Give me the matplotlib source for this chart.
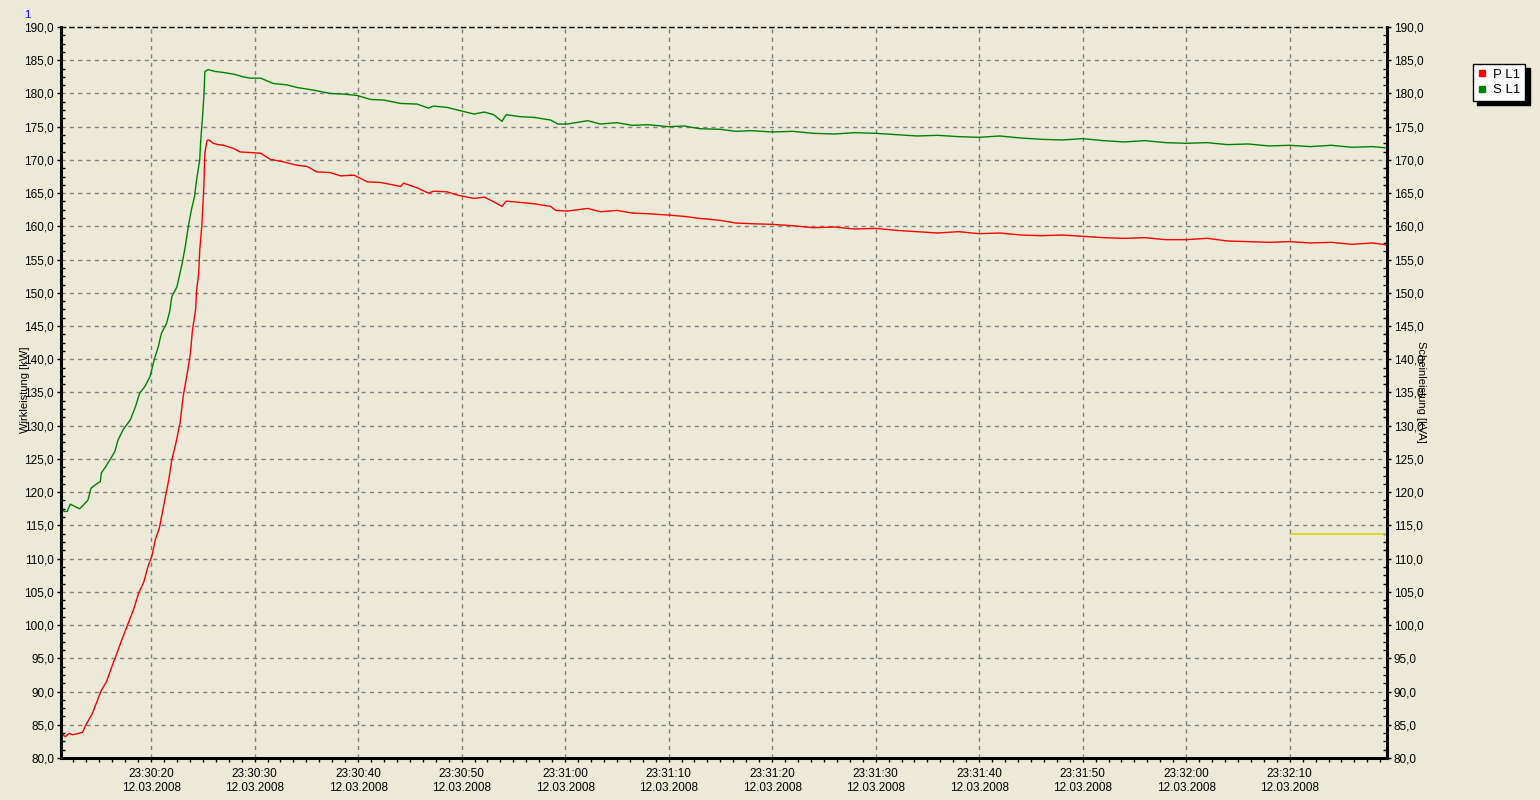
import numpy as np
import matplotlib
matplotlib.use("Agg")
import matplotlib.pyplot as plt
from matplotlib.ticker import MultipleLocator, FuncFormatter
from matplotlib.lines import Line2D
from datetime import datetime, timedelta

# time axis: seconds after 23:30:00 on 12.03.2008
t0 = datetime(2008, 3, 12, 23, 30, 0)
t_min, t_max = 11.3, 139.4

# S L1 (Scheinleistung)
s_t = [11.3, 11.6, 11.9, 12.2, 12.7, 13.1, 13.6, 13.9, 14.2, 14.7, 15.1, 15.2, 15.6,
       16.0, 16.5, 16.8, 17.3, 18.0, 18.5, 18.9, 19.4, 19.9, 20.3, 20.7, 21.0, 21.5,
       21.8, 22.0, 22.5, 23.0, 23.3, 23.6, 23.9, 24.2, 24.4, 24.7, 24.8, 24.95, 25.1,
       25.2, 25.5, 26.2, 26.8, 28.0, 28.9, 29.6, 30.6, 31.8, 33.1, 34.1, 35.7, 37.3,
       38.6, 39.9, 41.2, 42.5, 44.1, 45.7, 46.8, 47.3, 48.6, 49.9, 51.2, 52.2, 53.1,
       53.9, 54.3, 55.7, 57.0, 58.6, 59.3, 60.2, 62.2, 63.4, 65, 66.5, 68, 70, 71.5,
       73, 75, 76.5, 78, 80, 82, 84, 86, 88, 90, 92, 94, 96, 98, 100, 102, 104, 106,
       108, 110, 112, 114, 116, 118, 120, 122, 124, 126, 128, 130, 132, 134, 136, 138,
       139.4]
s_val = [117.9, 117.1, 117.1, 118.2, 117.8, 117.5, 118.3, 118.8, 120.6, 121.2, 121.6,
         122.9, 123.8, 124.8, 126.1, 127.8, 129.4, 130.9, 132.9, 134.9, 135.9, 137.4,
         139.9, 141.9, 143.9, 145.4, 147.2, 149.4, 150.9, 154.4, 156.9, 160.0, 162.5,
         164.5, 167.0, 170.0, 173.0, 176.0, 179.5, 183.3, 183.6, 183.3, 183.2, 182.9,
         182.5, 182.3, 182.3, 181.5, 181.3, 180.9, 180.5, 180.0, 179.9, 179.7, 179.1,
         179.0, 178.5, 178.4, 177.8, 178.1, 177.9, 177.4, 176.9, 177.2, 176.8, 175.8,
         176.8, 176.5, 176.4, 176.0, 175.4, 175.4, 175.9, 175.4, 175.6, 175.2, 175.3,
         175.0, 175.1, 174.7, 174.6, 174.3, 174.4, 174.2, 174.3, 174.0, 173.9, 174.1,
         174.0, 173.8, 173.6, 173.7, 173.5, 173.4, 173.6, 173.3, 173.1, 173.0, 173.2,
         172.9, 172.7, 172.9, 172.6, 172.5, 172.6, 172.3, 172.4, 172.1, 172.2, 172.0,
         172.2, 171.9, 172.0, 171.8]

# P L1 (Wirkleistung)
p_t = [11.3, 11.5, 11.7, 12.1, 12.4, 13.0, 13.4, 13.7, 14.3, 14.7, 15.2, 15.7, 16.2,
       16.8, 17.3, 17.8, 18.3, 18.8, 19.3, 19.7, 20.1, 20.4, 20.8, 21.2, 21.7, 22.0,
       22.4, 22.8, 23.1, 23.5, 23.8, 24.0, 24.3, 24.4, 24.6, 24.7, 24.9, 25.1, 25.2,
       25.4, 25.6, 26.0, 26.5, 27.0, 28.0, 28.6, 29.7, 30.6, 31.5, 32.8, 34.1, 35.1,
       36.0, 37.3, 38.3, 39.6, 40.9, 42.2, 43.5, 44.1, 44.4, 45.7, 46.8, 47.3, 48.6,
       49.6, 51.2, 52.2, 53.1, 53.9, 54.3, 55.7, 57.0, 58.6, 59.1, 60.2, 62.2, 63.4,
       65, 66.5, 68, 70, 71.5, 73, 75, 76.5, 78, 80, 82, 84, 86, 88, 90, 92, 94, 96,
       98, 100, 102, 104, 106, 108, 110, 112, 114, 116, 118, 120, 122, 124, 126, 128,
       130, 132, 134, 136, 138, 139.4]
p_val = [83.5, 83.5, 83.2, 83.7, 83.5, 83.7, 83.9, 85.0, 86.6, 88.2, 90.2, 91.5, 93.7,
         96.2, 98.3, 100.3, 102.3, 104.8, 106.5, 108.8, 110.5, 112.8, 114.6, 117.8,
         121.8, 124.8, 127.4, 130.4, 134.4, 137.9, 140.9, 144.4, 147.4, 150.4, 152.9,
         156.4, 160.0, 166.0, 171.0, 172.9, 173.0, 172.5, 172.3, 172.2, 171.7, 171.2,
         171.1, 171.0, 170.1, 169.7, 169.2, 169.0, 168.2, 168.1, 167.6, 167.7, 166.7,
         166.6, 166.2, 166.0, 166.5, 165.8, 165.0, 165.3, 165.2, 164.7, 164.2, 164.4,
         163.7, 163.0, 163.8, 163.6, 163.4, 163.0, 162.4, 162.3, 162.7, 162.2, 162.4,
         162.0, 161.9, 161.7, 161.5, 161.2, 160.9, 160.5, 160.4, 160.3, 160.1, 159.8,
         159.9, 159.6, 159.7, 159.4, 159.2, 159.0, 159.2, 158.9, 159.0, 158.7, 158.6,
         158.7, 158.5, 158.3, 158.2, 158.3, 158.0, 158.0, 158.2, 157.8, 157.7, 157.6,
         157.7, 157.5, 157.6, 157.3, 157.5, 157.2]

# short yellow line at the right end
y_t = [130.0, 139.4]
y_val = [113.7, 113.7]

bg = '#ECE9D8'
plt.rcParams['font.family'] = ['Liberation Sans', 'DejaVu Sans']
plt.rcParams['font.size'] = 8

fig = plt.figure(figsize=(15.4, 8), dpi=100, facecolor=bg)
ax = fig.add_axes([61/1540, 1-758/800, (1387-61)/1540, (758-27)/800])
ax.set_facecolor(bg)

ax.plot(p_t, p_val, color='#FF0000', lw=1.0)
ax.plot(s_t, s_val, color='#008000', lw=1.0)
ax.plot(y_t, y_val, color='#D8D800', lw=1.2)

ax.set_xlim(t_min, t_max)
ax.set_ylim(80, 190)

ax.xaxis.set_major_locator(MultipleLocator(10))
ax.xaxis.set_minor_locator(MultipleLocator(1.25))
ax.yaxis.set_major_locator(MultipleLocator(5))
ax.yaxis.set_minor_locator(MultipleLocator(1.25))

def fmt_time(v, pos):
    return (t0 + timedelta(seconds=v)).strftime('%H:%M:%S\n%d.%m.%Y')

ax.xaxis.set_major_formatter(FuncFormatter(fmt_time))
ax.yaxis.set_major_formatter(FuncFormatter(lambda v, p: ('%.1f' % v).replace('.', ',')))

ax.tick_params(axis='y', which='major', direction='out', length=3, width=1,
               left=True, right=True, labelleft=True, labelright=True, pad=2,
               labelsize=8.5)
ax.tick_params(axis='y', which='minor', direction='in', length=3, width=1,
               left=True, right=True)
ax.tick_params(axis='x', which='major', direction='out', length=3, width=1, pad=4,
               labelsize=8.5)
ax.tick_params(axis='x', which='minor', direction='out', length=3, width=1)
for lab in ax.get_xticklabels():
    lab.set_linespacing(1.25)

ax.grid(True, which='major', color='#808080', linestyle=(0, (3, 3)), linewidth=1)

for side in ['left', 'right', 'bottom']:
    ax.spines[side].set_linewidth(2.2)
    ax.spines[side].set_color('black')
ax.spines['top'].set_linestyle((0, (3, 3)))
ax.spines['top'].set_linewidth(1)

fig.text(25/1540, 1-390/800, 'Wirkleistung [kW]', rotation=90, ha='center',
         va='center', fontsize=8)
fig.text(1421/1540, 1-392/800, 'Scheinleistung [kVA]', rotation=270, ha='center',
         va='center', fontsize=8)
fig.text(24/1540, 1-15/800, '1', color='#0000FF', ha='left', va='center', fontsize=8)

handles = [Line2D([], [], marker='s', ls='none', color='#FF0000', markersize=5),
           Line2D([], [], marker='s', ls='none', color='#008000', markersize=5)]
leg = fig.legend(handles, ['P L1', 'S L1'], loc='upper left',
                 bbox_to_anchor=(1473/1540, 1-64/800), bbox_transform=fig.transFigure,
                 borderaxespad=0, fancybox=False, edgecolor='black', framealpha=1,
                 shadow={'color': 'black', 'alpha': 1, 'ox': 3, 'oy': -3},
                 handlelength=0.6, handletextpad=0.6, borderpad=0.35,
                 labelspacing=0.25, fontsize=9.5)
leg.get_frame().set_linewidth(1)

fig.savefig('out.png', dpi=100, facecolor=bg)
